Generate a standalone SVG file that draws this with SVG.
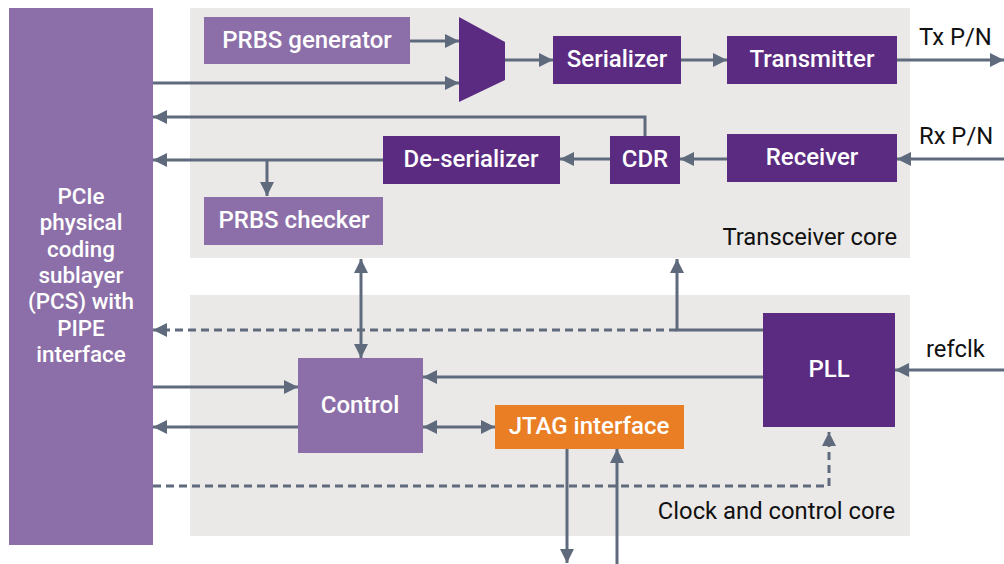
<svg xmlns="http://www.w3.org/2000/svg" width="1004" height="564" viewBox="0 0 1004 564">
<style>
.bg{fill:#ebe9e8}
.lt{fill:#8c6fa8}
.dk{fill:#5b2b82}
.or{fill:#e97e24}
.nl{font-family:Roboto,"Liberation Sans",sans-serif;font-weight:500;font-size:24px;fill:#fff;text-anchor:middle;dominant-baseline:central}
.pc{font-size:22.4px}
.lb{font-family:Roboto,"Liberation Sans",sans-serif;font-size:23.8px;fill:#111}
.c{fill:none;stroke:#5f6b7d;stroke-width:3}
.d{stroke-dasharray:8 5}
</style>
<defs>
<marker id="ah" viewBox="0 0 14 14" refX="14" refY="7" markerWidth="14" markerHeight="14" markerUnits="userSpaceOnUse" orient="auto-start-reverse">
<path d="M0,0 L14,7 L0,14 z" fill="#5f6b7d"/>
</marker>
</defs>
<g id="transceiver-core">
<rect class="bg" x="190" y="8" width="720" height="250"/>
<text class="lb" x="897" y="245" text-anchor="end">Transceiver core</text>
</g>
<g id="clock-control-core">
<rect class="bg" x="190" y="295" width="720" height="241"/>
<text class="lb" x="895" y="519" text-anchor="end">Clock and control core</text>
</g>
<g id="connectors">
<line class="c" x1="410" y1="41" x2="459" y2="41" marker-end="url(#ah)"/>
<line class="c" x1="153" y1="83" x2="459" y2="83" marker-end="url(#ah)"/>
<line class="c" x1="505" y1="60" x2="553" y2="60" marker-end="url(#ah)"/>
<line class="c" x1="681" y1="60" x2="727" y2="60" marker-end="url(#ah)"/>
<line class="c" x1="897" y1="60" x2="1004" y2="60" marker-end="url(#ah)"/>
<line class="c" x1="1004" y1="159" x2="897" y2="159" marker-end="url(#ah)"/>
<line class="c" x1="727" y1="159" x2="680" y2="159" marker-end="url(#ah)"/>
<line class="c" x1="610" y1="159" x2="560" y2="159" marker-end="url(#ah)"/>
<polyline class="c" points="645,136 645,117 153,117" marker-end="url(#ah)"/>
<line class="c" x1="383" y1="160" x2="153" y2="160" marker-end="url(#ah)"/>
<line class="c" x1="267" y1="160" x2="267" y2="196" marker-end="url(#ah)"/>
<line class="c" x1="361" y1="259" x2="361" y2="358" marker-start="url(#ah)" marker-end="url(#ah)"/>
<polyline class="c" points="763,330 677,330 677,259" marker-end="url(#ah)"/>
<line class="c d" x1="677" y1="330" x2="153" y2="330" marker-end="url(#ah)"/>
<line class="c" x1="1004" y1="370" x2="895" y2="370" marker-end="url(#ah)"/>
<line class="c" x1="763" y1="377" x2="423" y2="377" marker-end="url(#ah)"/>
<line class="c" x1="153" y1="387" x2="298" y2="387" marker-end="url(#ah)"/>
<line class="c" x1="298" y1="427" x2="153" y2="427" marker-end="url(#ah)"/>
<line class="c" x1="423" y1="427" x2="495" y2="427" marker-start="url(#ah)" marker-end="url(#ah)"/>
<line class="c" x1="567" y1="449" x2="567" y2="563" marker-end="url(#ah)"/>
<line class="c" x1="617" y1="564" x2="617" y2="449" marker-end="url(#ah)"/>
<polyline class="c d" points="153,486 829,486 829,432" marker-end="url(#ah)"/>
</g>
<g id="pcs">
<rect class="lt" x="9" y="8" width="144" height="537"/>
<text class="nl pc" x="81" y="196.1">PCIe</text>
<text class="nl pc" x="81" y="222.4">physical</text>
<text class="nl pc" x="81" y="248.7">coding</text>
<text class="nl pc" x="81" y="275">sublayer</text>
<text class="nl pc" x="81" y="301.3">(PCS) with</text>
<text class="nl pc" x="81" y="327.6">PIPE</text>
<text class="nl pc" x="81" y="353.9">interface</text>
</g>
<g id="prbs-generator">
<rect class="lt" x="204" y="17" width="206" height="47"/>
<text class="nl" x="307" y="40">PRBS generator</text>
</g>
<g id="mux">
<polygon class="dk" points="459,17 505,42 505,80 459,102"/>
</g>
<g id="serializer">
<rect class="dk" x="553" y="36" width="128" height="48"/>
<text class="nl" x="617" y="59">Serializer</text>
</g>
<g id="transmitter">
<rect class="dk" x="727" y="36" width="170" height="48"/>
<text class="nl" x="812" y="59">Transmitter</text>
</g>
<g id="tx-label">
<text class="lb" x="919" y="45">Tx P/N</text>
</g>
<g id="receiver">
<rect class="dk" x="727" y="134" width="170" height="48"/>
<text class="nl" x="812" y="157">Receiver</text>
</g>
<g id="rx-label">
<text class="lb" x="919" y="144">Rx P/N</text>
</g>
<g id="cdr">
<rect class="dk" x="610" y="136" width="70" height="48"/>
<text class="nl" x="645" y="159">CDR</text>
</g>
<g id="deserializer">
<rect class="dk" x="383" y="136" width="177" height="48"/>
<text class="nl" x="471" y="159">De-serializer</text>
</g>
<g id="prbs-checker">
<rect class="lt" x="204" y="197" width="179" height="48"/>
<text class="nl" x="294" y="220">PRBS checker</text>
</g>
<g id="control">
<rect class="lt" x="298" y="358" width="125" height="95"/>
<text class="nl" x="360" y="405">Control</text>
</g>
<g id="jtag">
<rect class="or" x="495" y="405" width="189" height="44"/>
<text class="nl" x="589" y="426">JTAG interface</text>
</g>
<g id="pll">
<rect class="dk" x="763" y="313" width="132" height="114"/>
<text class="nl" x="829" y="369">PLL</text>
</g>
<g id="refclk-label">
<text class="lb" x="926" y="357">refclk</text>
</g>
</svg>
